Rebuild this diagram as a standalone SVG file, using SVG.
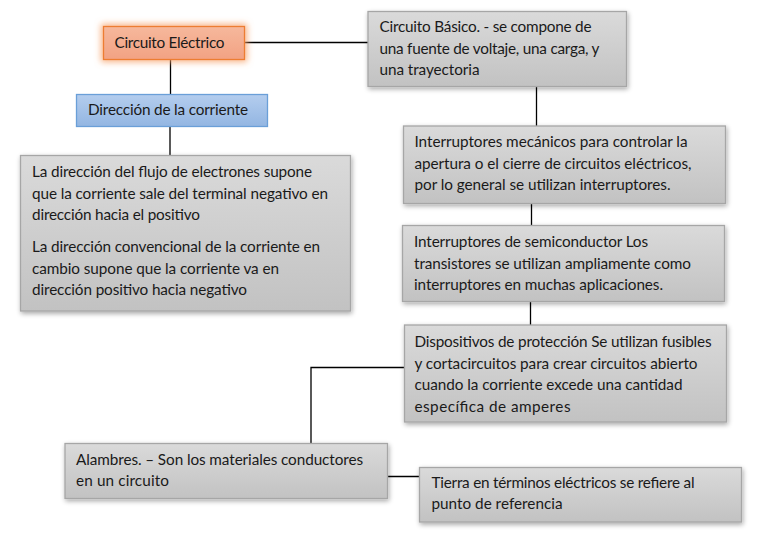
<svg xmlns="http://www.w3.org/2000/svg" width="770" height="534" viewBox="0 0 770 534">
<defs>
<linearGradient id="gGray" x1="0" y1="0" x2="0" y2="1"><stop offset="0" stop-color="#dadada"/><stop offset="1" stop-color="#c2c2c2"/></linearGradient>
<linearGradient id="gOrange" x1="0" y1="0" x2="0" y2="1"><stop offset="0" stop-color="#f6b89c"/><stop offset="1" stop-color="#f2a283"/></linearGradient>
<linearGradient id="gBlue" x1="0" y1="0" x2="0" y2="1"><stop offset="0" stop-color="#b4cdee"/><stop offset="1" stop-color="#93b6e2"/></linearGradient>
<filter id="shadow" x="-10%" y="-20%" width="120%" height="140%"><feGaussianBlur in="SourceAlpha" stdDeviation="2.5"/><feOffset dx="1" dy="2" result="b"/><feComponentTransfer><feFuncA type="linear" slope="0.35"/></feComponentTransfer><feMerge><feMergeNode/><feMergeNode in="SourceGraphic"/></feMerge></filter>
<filter id="glow" x="-20%" y="-50%" width="140%" height="200%"><feMorphology in="SourceAlpha" operator="dilate" radius="2" result="d"/><feGaussianBlur in="d" stdDeviation="3" result="b"/><feFlood flood-color="#f7a36b" flood-opacity="0.8"/><feComposite in2="b" operator="in" result="g"/><feMerge><feMergeNode in="g"/><feMergeNode in="SourceGraphic"/></feMerge></filter>
</defs>
<style>
.box{fill:url(#gGray);stroke:#a6a6a6;stroke-width:1.3;filter:url(#shadow)}
.t{font-family:Lato,"Liberation Sans",sans-serif;font-size:15.3px;fill:#1a1a1a}
.c{fill:none;stroke:#000;stroke-width:1.3}
</style>
<rect width="770" height="534" fill="#fff"/>
<g id="connectors">
<path class="c" d="M244,42.5H368"/>
<path class="c" d="M170.5,59V94.5"/>
<path class="c" d="M170,126.5V155.5"/>
<path class="c" d="M536.5,86.5V126"/>
<path class="c" d="M531.5,203.5V225.5"/>
<path class="c" d="M530.5,301.5V325"/>
<path class="c" d="M404.5,367.5H311V443.5"/>
<path class="c" d="M387.5,476.5H419.5"/>
</g>
<g id="n-circuito-electrico">
<rect x="103.5" y="26.5" width="141" height="33" fill="url(#gOrange)" stroke="#ed7d31" stroke-width="1.3" filter="url(#glow)"/>
<text class="t" x="114.5" y="47.5" textLength="110">Circuito Eléctrico</text>
</g>
<g id="n-direccion">
<rect x="76.5" y="94.5" width="191" height="32" fill="url(#gBlue)" stroke="#6a9fd8" stroke-width="1.3"/>
<text class="t" x="88" y="115" textLength="160">Dirección de la corriente</text>
</g>
<g id="n-direccion-texto">
<rect class="box" x="20.5" y="155.5" width="330" height="155.5"/>
<text class="t" x="32" y="177" textLength="280">La dirección del flujo de electrones supone</text>
<text class="t" x="32" y="198.5" textLength="296">que la corriente sale del terminal negativo en</text>
<text class="t" x="32" y="220" textLength="168">dirección hacia el positivo</text>
<text class="t" x="32" y="252" textLength="288">La dirección convencional de la corriente en</text>
<text class="t" x="32" y="273.5" textLength="247">cambio supone que la corriente va en</text>
<text class="t" x="32" y="295" textLength="215">dirección positivo hacia negativo</text>
</g>
<g id="n-circuito-basico">
<rect class="box" x="368" y="11.5" width="258.5" height="75"/>
<text class="t" x="379.5" y="32" textLength="212">Circuito Básico. - se compone de</text>
<text class="t" x="379.5" y="53.5" textLength="220">una fuente de voltaje, una carga, y</text>
<text class="t" x="379.5" y="75" textLength="100">una trayectoria</text>
</g>
<g id="n-mecanicos">
<rect class="box" x="403.5" y="126" width="322" height="77.5"/>
<text class="t" x="414.5" y="147" textLength="273">Interruptores mecánicos para controlar la</text>
<text class="t" x="414.5" y="168.5" textLength="277">apertura o el cierre de circuitos eléctricos,</text>
<text class="t" x="414.5" y="190" textLength="256">por lo general se utilizan interruptores.</text>
</g>
<g id="n-semiconductor">
<rect class="box" x="402.5" y="225.5" width="322" height="76"/>
<text class="t" x="414" y="247" textLength="234">Interruptores de semiconductor Los</text>
<text class="t" x="414" y="268.5" textLength="277">transistores se utilizan ampliamente como</text>
<text class="t" x="414" y="290" textLength="249">interruptores en muchas aplicaciones.</text>
</g>
<g id="n-proteccion">
<rect class="box" x="404.5" y="325" width="322" height="97"/>
<text class="t" x="414.5" y="347" textLength="297">Dispositivos de protección Se utilizan fusibles</text>
<text class="t" x="414.5" y="368.5" textLength="283">y cortacircuitos para crear circuitos abierto</text>
<text class="t" x="414.5" y="390" textLength="268">cuando la corriente excede una cantidad</text>
<text class="t" x="414.5" y="411.5" textLength="156">específica de amperes</text>
</g>
<g id="n-alambres">
<rect class="box" x="65" y="443.5" width="322.5" height="55"/>
<text class="t" x="76" y="464.5" textLength="287">Alambres. – Son los materiales conductores</text>
<text class="t" x="76" y="485.5" textLength="93">en un circuito</text>
</g>
<g id="n-tierra">
<rect class="box" x="419.5" y="467.5" width="322" height="54.5"/>
<text class="t" x="431.5" y="488" textLength="263">Tierra en términos eléctricos se refiere al</text>
<text class="t" x="431.5" y="509" textLength="131">punto de referencia</text>
</g>
</svg>
